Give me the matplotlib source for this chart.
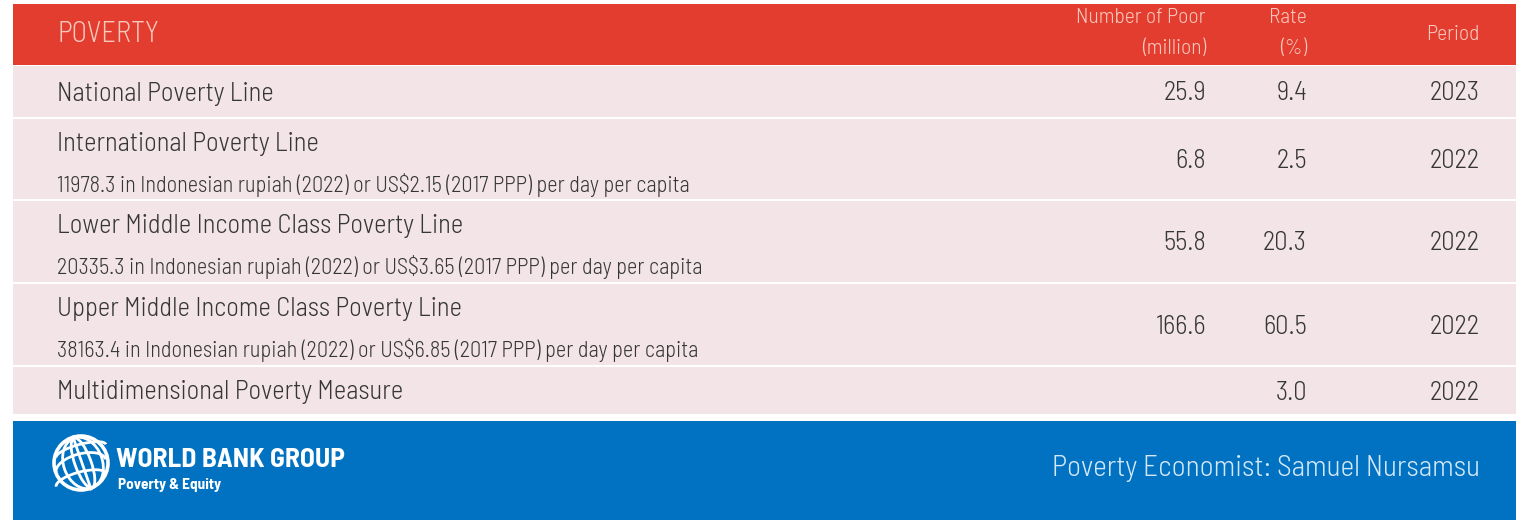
import matplotlib
matplotlib.use("Agg")
import matplotlib.pyplot as plt
from matplotlib.patches import Rectangle, Circle, Ellipse, Arc

plt.rcParams['font.family'] = ['Barlow Semi Condensed', 'Roboto', 'DejaVu Sans']
plt.rcParams['font.weight'] = 300

# ---- data ----
header_title = "POVERTY"
col_headers = ["Number of Poor\n(million)", "Rate\n(%)", "Period"]
row_titles = ["National Poverty Line",
              "International Poverty Line",
              "Lower Middle Income Class Poverty Line",
              "Upper Middle Income Class Poverty Line",
              "Multidimensional Poverty Measure"]
row_notes = ["",
             "11978.3 in Indonesian rupiah (2022) or US$2.15 (2017 PPP) per day per capita",
             "20335.3 in Indonesian rupiah (2022) or US$3.65 (2017 PPP) per day per capita",
             "38163.4 in Indonesian rupiah (2022) or US$6.85 (2017 PPP) per day per capita",
             ""]
num_poor = ["25.9", "6.8", "55.8", "166.6", ""]
rates = ["9.4", "2.5", "20.3", "60.5", "3.0"]
periods = ["2023", "2022", "2022", "2022", "2022"]
footer_left = "WORLD BANK GROUP"
footer_sub = "Poverty & Equity"
footer_right = "Poverty Economist: Samuel Nursamsu"

# ---- layout (pixels) ----
W, H = 1516, 520
RED = "#E33D30"
ROW_BG = "#F3E5E7"
BLUE = "#0172C2"
TXT = "#363636"
HDR_TXT = "#F8C9BC"

fig = plt.figure(figsize=(W / 100, H / 100), dpi=100)
ax = fig.add_axes([0, 0, 1, 1])
ax.set_xlim(0, W)
ax.set_ylim(H, 0)
ax.axis("off")

left, right = 13, W
ax.add_patch(Rectangle((left, 4), right - left, 61, color=RED, lw=0))
row_edges = [65, 118, 200, 283, 366, 415]
for i in range(len(row_titles)):
    y0, y1 = row_edges[i], row_edges[i + 1]
    ax.add_patch(Rectangle((left, y0 + 1), right - left, y1 - y0 - 2,
                           color=ROW_BG, lw=0))

col_x = [1206, 1307, 1480]
ax.text(57, 35, header_title, fontsize=20.5, color=HDR_TXT, va="center", ha="left")
for j in range(2):
    ax.text(col_x[j], 33, col_headers[j], fontsize=15.5, color=HDR_TXT, va="center",
            ha="right", multialignment="right", linespacing=1.75)
ax.text(col_x[2], 35, col_headers[2], fontsize=15.5, color=HDR_TXT, va="center",
        ha="right")

TS = 19.2
for i, title in enumerate(row_titles):
    y0, y1 = row_edges[i], row_edges[i + 1]
    yc = (y0 + y1) / 2
    if row_notes[i]:
        ax.text(57, y0 + 26, title, fontsize=TS, color=TXT, va="center", ha="left")
        ax.text(57, y0 + 67, row_notes[i], fontsize=16, color=TXT, va="center", ha="left")
    else:
        ax.text(57, yc + 2, title, fontsize=TS, color=TXT, va="center", ha="left")
    vals = [num_poor[i], rates[i], periods[i]]
    for x, v in zip(col_x, vals):
        if v:
            ax.text(x, yc + 2, v, fontsize=TS, color=TXT, va="center", ha="right")

# footer
ax.add_patch(Rectangle((left, 421), right - left, H - 421, color=BLUE, lw=0))
cx, cy, r = 81, 463, 27
ax.add_patch(Circle((cx, cy), r, fill=False, ec="white", lw=2.6))
for wfac in [0.3, 0.72]:
    ax.add_patch(Ellipse((cx + 2, cy), 2 * r * wfac, 2 * r * 0.98, angle=-20,
                         fill=False, ec="white", lw=2.0))
ax.plot([cx - 8, cx + 10], [cy - r + 1, cy + r - 1], color="white", lw=2.0)
for dy, hf in [(-12, 0.5), (3, 0.9), (17, 0.6)]:
    ax.add_patch(Arc((cx, cy + dy), 2 * r * 0.95, 2 * r * hf * 0.5, angle=-15,
                     theta1=180, theta2=360, ec="white", lw=2.0))
ax.text(116, 460, footer_left, fontsize=19.8, fontweight="bold", color="white",
        va="center", ha="left")
ax.text(118, 485, footer_sub, fontsize=11, fontweight="bold", color="white",
        va="center", ha="left")
ax.text(1480, 469, footer_right, fontsize=21.2, color="#D4E8F7", va="center", ha="right")

fig.savefig("out.png", dpi=100)
